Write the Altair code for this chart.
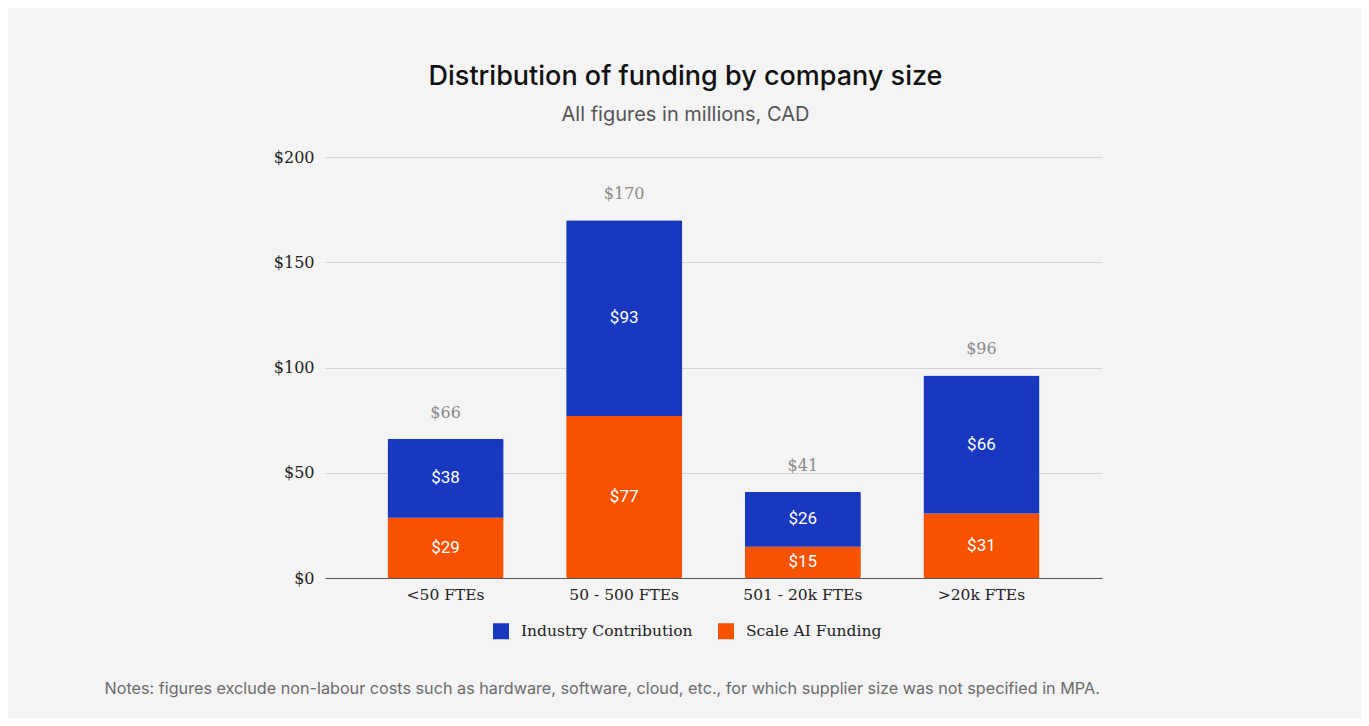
import altair as alt
import pandas as pd

sizes = ["<50 FTEs", "50 - 500 FTEs", "501 - 20k FTEs", ">20k FTEs"]
scale_ai = [28.6, 77.0, 14.8, 30.6]
industry = [37.6, 93.0, 26.2, 65.6]
series = ["Industry Contribution", "Scale AI Funding"]
colors = ["#1838bf", "#f65200"]
y_ticks = [0, 50, 100, 150, 200]

title_text = "Distribution of funding by company size"
subtitle_text = "All figures in millions, CAD"
notes_text = ("Notes: figures exclude non-labour costs such as hardware, software, cloud, etc., "
              "for which supplier size was not specified in MPA.")

rows = []
for i, s in enumerate(sizes):
    rows.append({"size": s, "series": series[1], "value": scale_ai[i], "ord": 0})
    rows.append({"size": s, "series": series[0], "value": industry[i], "ord": 1})
df = pd.DataFrame(rows)

serif = "DejaVu Serif"

x_enc = alt.X(
    "size:N",
    sort=sizes,
    scale=alt.Scale(paddingInner=0.35, paddingOuter=0.35),
    axis=alt.Axis(
        title=notes_text,
        titleX=-221,
        titleY=110,
        titleAlign="left",
        titleBaseline="middle",
        titleAngle=0,
        titleFont="Inter",
        titleFontSize=16.2,
        titleFontWeight="normal",
        titleColor="#6b6b6b",
        titleLimit=0,
        labelAngle=0,
        labelFont=serif,
        labelFontSize=15.5,
        labelColor="#222222",
        labelPadding=9,
        ticks=False,
        grid=False,
        domainColor="#555555",
        domainWidth=1,
    ),
)

y_scale = alt.Scale(domain=[0, 200], nice=False)

base = alt.Chart(df)

bars = base.mark_bar(cornerRadius=1.5).encode(
    x=x_enc,
    y=alt.Y(
        "value:Q",
        stack="zero",
        scale=y_scale,
        axis=alt.Axis(
            title=None,
            values=y_ticks,
            format="$,.0f",
            labelFont=serif,
            labelFontSize=16,
            labelColor="#222222",
            labelPadding=11,
            ticks=False,
            domain=False,
            gridColor="#d4d4d4",
            gridWidth=1,
        ),
    ),
    color=alt.Color(
        "series:N",
        scale=alt.Scale(domain=series, range=colors),
        legend=alt.Legend(
            title=None,
            orient="none",
            legendX=168,
            legendY=466,
            direction="horizontal",
            symbolType="square",
            symbolSize=256,
            symbolStrokeWidth=0,
            symbolOpacity=1,
            labelFont=serif,
            labelFontSize=15.5,
            labelColor="#222222",
            labelOffset=12,
            labelLimit=0,
            columnPadding=25,
        ),
    ),
    order=alt.Order("ord:Q"),
)

seg = (
    base.transform_stack(
        stack="value", groupby=["size"], sort=[alt.SortField("ord")], as_=["v0", "v1"]
    )
    .transform_calculate(mid="(datum.v0 + datum.v1) / 2")
    .mark_text(color="white", font="Roboto", fontSize=17, baseline="middle")
    .encode(
        x=alt.X("size:N", sort=sizes),
        y=alt.Y("mid:Q", scale=y_scale),
        text=alt.Text("value:Q", format="$.0f"),
    )
)

totals = (
    base.transform_aggregate(total="sum(value)", groupby=["size"])
    .mark_text(color="#8a8a8a", font=serif, fontSize=16, baseline="middle", dy=-26)
    .encode(
        x=alt.X("size:N", sort=sizes),
        y=alt.Y("total:Q", scale=y_scale),
        text=alt.Text("total:Q", format="$.0f"),
    )
)

chart = (
    alt.layer(bars, seg, totals)
    .properties(
        width=777,
        height=421,
        autosize=alt.AutoSizeParams(type="none"),
        padding={"left": 317, "top": 149, "right": 259, "bottom": 140},
        title=alt.TitleParams(
            text=title_text,
            subtitle=subtitle_text,
            anchor="middle",
            dx=-28,
            font="Inter",
            fontSize=27,
            fontWeight=500,
            color="#111111",
            subtitleFont="Inter",
            subtitleFontSize=20,
            subtitleColor="#555555",
            subtitlePadding=14,
            offset=23,
        ),
    )
    .configure(background="#f4f4f4", view=alt.ViewConfig(stroke=None))
)

chart.save("out.html", embed_options={"renderer": "svg", "actions": False})
